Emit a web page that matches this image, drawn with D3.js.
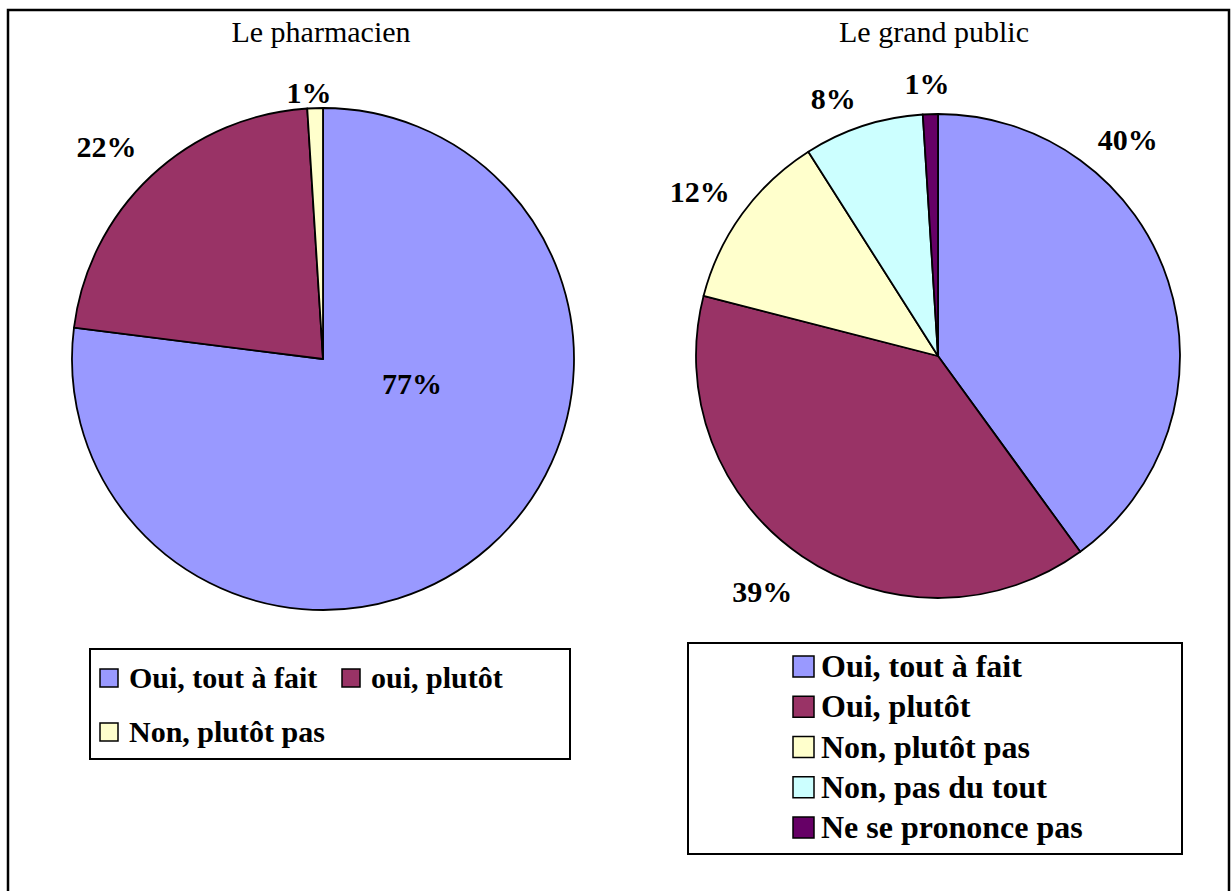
<!DOCTYPE html>
<html>
<head>
<meta charset="utf-8">
<script src="https://cdn.jsdelivr.net/npm/d3@7"></script>
<style>
  body { margin: 0; background: #fff; }
  svg { display: block; }
</style>
</head>
<body>
<svg id="chart" width="1231" height="891"></svg>
<script>
// Data
const pharmaCategories = ['Oui, tout à fait', 'oui, plutôt', 'Non, plutôt pas'];
const pharmaValues = [77, 22, 1];
const publicCategories = ['Oui, tout à fait', 'Oui, plutôt', 'Non, plutôt pas', 'Non, pas du tout', 'Ne se prononce pas'];
const publicValues = [40, 39, 12, 8, 1];
const sliceColors = ['#9999FF', '#993366', '#FFFFCC', '#CCFFFF', '#660066'];

// Label placement (angle in degrees clockwise from 12 o'clock, radius factor)
const pharmaLabelPos = [[105.7, 0.368], [314.5, 1.21], [357, 1.064]];
const publicLabelPos = [[41.2, 1.19], [216.7, 1.215], [304.7, 1.197], [337.9, 1.15], [357.7, 1.125]];

const FONT = 'Liberation Serif';

const svg = d3.select('#chart');

// Outer frame
svg.append('rect')
  .attr('x', 8).attr('y', 10)
  .attr('width', 1221).attr('height', 900)
  .attr('fill', 'none')
  .attr('stroke', '#000')
  .attr('stroke-width', 2.5);

const pie = d3.pie().sort(null).value(d => d);

const drawPie = (opts) => {
  const { cx, cy, r, title, values, labelPos } = opts;
  const g = svg.append('g').attr('transform', `translate(${cx},${cy})`);
  const arcs = pie(values);
  const arc = d3.arc().innerRadius(0).outerRadius(r);

  g.selectAll('path.slice')
    .data(arcs)
    .enter().append('path')
    .attr('class', 'slice')
    .attr('d', arc)
    .attr('fill', (d, i) => sliceColors[i])
    .attr('stroke', '#000')
    .attr('stroke-width', 1.8)
    .attr('stroke-linejoin', 'round');

  g.selectAll('text.pct')
    .data(arcs)
    .enter().append('text')
    .attr('class', 'pct')
    .attr('transform', (d, i) => {
      const [a, f] = labelPos[i];
      const [x, y] = d3.pointRadial(a * Math.PI / 180, r * f);
      return `translate(${x},${y})`;
    })
    .attr('dy', '0.35em')
    .attr('text-anchor', 'middle')
    .attr('font-family', FONT)
    .attr('font-size', 30)
    .attr('font-weight', 'bold')
    .text(d => d.data + '%');

  svg.append('text')
    .attr('x', opts.titleX)
    .attr('y', 42)
    .attr('text-anchor', 'middle')
    .attr('font-family', FONT)
    .attr('font-size', 30)
    .text(title);
};

drawPie({ cx: 323, cy: 359, r: 251, title: 'Le pharmacien', titleX: 321,
  values: pharmaValues, labelPos: pharmaLabelPos });
drawPie({ cx: 938, cy: 356, r: 242, title: 'Le grand public', titleX: 934,
  values: publicValues, labelPos: publicLabelPos });

// Left legend (two rows, wrapped)
const leftLegend = svg.append('g');
leftLegend.append('rect')
  .attr('x', 90).attr('y', 649)
  .attr('width', 480).attr('height', 110)
  .attr('fill', '#fff').attr('stroke', '#000').attr('stroke-width', 2);

const leftItemPos = [[100, 688], [342, 688], [100, 742]];
const leftItems = leftLegend.selectAll('g.item')
  .data(pharmaCategories)
  .enter().append('g')
  .attr('class', 'item')
  .attr('transform', (d, i) => `translate(${leftItemPos[i][0]},${leftItemPos[i][1]})`);

leftItems.append('rect')
  .attr('x', 0).attr('y', -19)
  .attr('width', 18).attr('height', 18)
  .attr('fill', (d, i) => sliceColors[i])
  .attr('stroke', '#000').attr('stroke-width', 1.5);

leftItems.append('text')
  .attr('x', 29)
  .attr('font-family', FONT)
  .attr('font-size', 30)
  .attr('font-weight', 'bold')
  .text(d => d);

// Right legend (one column)
const rightLegend = svg.append('g');
rightLegend.append('rect')
  .attr('x', 688).attr('y', 643)
  .attr('width', 494).attr('height', 211)
  .attr('fill', '#fff').attr('stroke', '#000').attr('stroke-width', 2);

const rowY = d3.scalePoint()
  .domain(publicCategories)
  .range([677, 838]);

const rightItems = rightLegend.selectAll('g.item')
  .data(publicCategories)
  .enter().append('g')
  .attr('class', 'item')
  .attr('transform', d => `translate(793,${rowY(d)})`);

rightItems.append('rect')
  .attr('x', 0).attr('y', -21)
  .attr('width', 21).attr('height', 21)
  .attr('fill', (d, i) => sliceColors[i])
  .attr('stroke', '#000').attr('stroke-width', 1.5);

rightItems.append('text')
  .attr('x', 28)
  .attr('font-family', FONT)
  .attr('font-size', 32)
  .attr('font-weight', 'bold')
  .text(d => d);
</script>
</body>
</html>
